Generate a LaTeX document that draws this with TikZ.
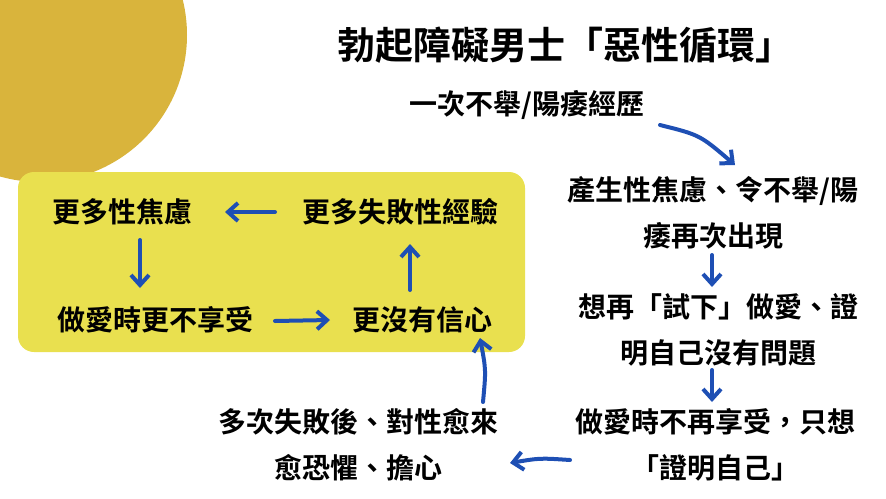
\documentclass[tikz,border=0pt]{standalone}
\usepackage{fontspec}
\usepackage{tikz}
\usetikzlibrary{arrows.meta}
\newfontfamily\cjk{Noto Sans CJK TC}[BoldFont={* Bold}]
\definecolor{Gold}{HTML}{D9B43C}
\definecolor{Lemon}{HTML}{E9E04F}
\definecolor{ArrowBlue}{HTML}{1E4FB4}
\tikzset{
  txt/.style={inner sep=0pt,font=\cjk\bfseries\fontsize{28}{46}\selectfont,align=center},
  flow/.style={-{Straight Barb[length=10pt,width=18pt]},line width=4pt,draw=ArrowBlue,line cap=round},
}

\begin{document}
\begin{tikzpicture}[x=1pt,y=-1pt]
  \useasboundingbox (0,0) rectangle (886,498);
  \begin{scope}
    \clip (0,0) rectangle (886,498);
    \fill [Gold] (40,35) circle (147);
  \end{scope}
  \fill [Lemon,rounded corners=16pt] (18,172) rectangle (525,352);
  % title and outer loop
  \node [txt,font=\cjk\bfseries\fontsize{38}{40}\selectfont] (title) at (565,45) {勃起障礙男士「惡性循環」};
  \node [txt] (first) at (527,105) {一次不舉/陽痿經歷};
  \node [txt] (anx) at (713,213) {產生性焦慮、令不舉/陽\\痿再次出現};
  \node [txt] (try) at (718,330) {想再「試下」做愛、證\\明自己沒有問題};
  \node [txt] (prove) at (715,445) {做愛時不再享受，只想\\「證明自己」};
  \node [txt] (fear) at (358,445) {多次失敗後、對性愈來\\愈恐懼、擔心};
  % inner loop
  \node [txt] (conf) at (422,320) {更沒有信心};
  \node [txt] (fail) at (400,212) {更多失敗性經驗};
  \node [txt] (more) at (122,212) {更多性焦慮};
  \node [txt] (enjoy) at (155,320) {做愛時更不享受};
  \coordinate (a1) at (660,125);
  \coordinate (a2) at (735,165);
  \draw [flow] (a1) .. controls (700,135) .. (a2);
  \draw [flow] (712,255) -- (712,287);
  \draw [flow] (712,370) -- (712,402);
  \draw [flow] (570,460) .. controls (540,458) .. (510,463);
  \draw [flow] (483,402) .. controls (486,370) .. (480,338);
  \draw [flow] (410,290) -- (410,244);
  \draw [flow] (275,212) -- (225,212);
  \draw [flow] (140,240) -- (140,288);
  \draw [flow] (275,321) -- (330,320);
\end{tikzpicture}
\end{document}
